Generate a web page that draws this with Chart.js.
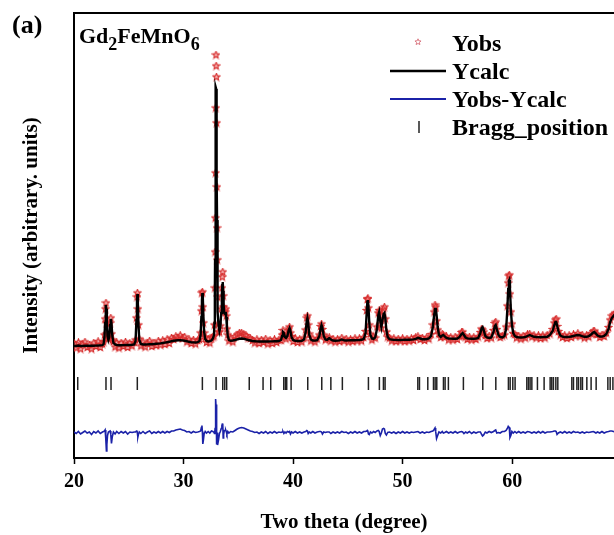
<!DOCTYPE html>
<html>
<head>
<meta charset="utf-8">
<script src="https://cdn.jsdelivr.net/npm/chart.js@4"></script>
<style>
html,body{margin:0;padding:0;background:#fff;}
#wrap{width:614px;height:535px;}
</style>
</head>
<body>
<div id="wrap"><canvas id="c" width="614" height="535"></canvas></div>
<script>
// ---------------- DATA ----------------
const twoTheta = [
 20.0,20.2,20.4,20.6,20.8,21.0,21.2,21.4,21.6,21.8,22.0,22.2,22.4,22.6,
 22.70,22.78,22.84,22.88,22.92,22.96,23.00,23.06,23.14,23.22,23.30,23.36,23.42,23.50,23.60,23.75,23.90,
 24.1,24.3,24.5,24.7,24.9,25.1,25.3,25.5,
 25.62,25.70,25.75,25.79,25.83,25.88,25.96,26.1,
 26.3,26.5,26.7,26.9,27.1,27.3,27.5,27.7,27.9,28.1,28.3,28.5,28.7,28.9,29.1,29.3,29.5,29.7,29.9,30.1,30.3,30.5,30.7,30.9,31.1,31.3,31.45,
 31.56,31.63,31.68,31.72,31.76,31.81,31.88,31.98,32.1,32.25,32.4,32.55,32.68,
 32.78,32.82,32.86,32.88,32.90,32.92,32.94,32.96,32.98,33.00,33.02,33.04,33.06,33.08,33.10,33.14,33.20,33.28,33.36,33.44,33.50,33.54,33.58,33.62,33.66,33.72,33.80,33.85,33.90,33.96,34.04,34.14,34.3,34.5,
 34.7,34.9,35.1,35.3,35.5,35.7,35.9,36.1,36.3,36.5,
 36.7,36.9,37.1,37.3,37.5,37.7,37.9,38.1,38.3,38.5,38.7,38.9,
 39.00,39.08,39.16,39.26,39.36,39.48,39.60,39.68,39.76,39.86,
 40.0,40.2,40.4,40.6,40.8,41.0,
 41.15,41.25,41.31,41.38,41.48,41.62,41.8,42.0,42.2,42.4,
 42.52,42.60,42.68,42.8,42.95,43.1,43.3,43.45,43.65,43.85,44.05,44.25,44.45,44.65,44.85,45.05,45.25,45.45,45.65,45.85,46.05,46.25,46.45,
 46.62,46.72,46.78,46.83,46.88,46.96,47.06,47.2,47.35,47.5,
 47.66,47.78,47.86,47.96,48.06,48.16,48.26,48.34,48.42,48.52,48.64,
 48.8,49.0,49.2,49.4,49.6,49.8,50.0,50.2,50.4,50.6,50.8,51.0,51.2,51.4,51.6,51.8,52.0,52.2,52.4,52.6,
 52.76,52.88,52.96,53.02,53.10,53.20,53.32,53.48,53.62,53.72,53.85,
 54.0,54.2,54.4,54.6,54.8,55.0,55.2,55.38,55.48,55.6,55.75,55.9,
 56.1,56.3,56.5,56.7,56.9,57.1,57.22,57.3,57.4,57.55,57.7,57.9,
 58.1,58.3,58.42,58.5,58.6,58.75,58.9,59.1,59.3,
 59.45,59.56,59.64,59.70,59.74,59.80,59.88,59.98,
 60.1,60.25,60.4,60.6,60.8,61.0,61.2,61.4,61.6,61.8,62.0,62.2,62.4,62.6,62.8,63.0,63.2,63.45,
 63.7,63.85,63.95,64.02,64.1,64.22,64.4,
 64.6,64.8,65.0,65.2,65.4,65.6,65.8,66.0,66.2,66.4,66.6,66.8,67.0,67.2,67.4,67.5,67.65,67.8,68.0,68.2,68.4,68.6,68.8,68.95,69.1,69.25,69.4
];
const yCalc = [
 190,190,195,190,190,192,192,192,193,193,194,195,196,198,
 210,280,420,540,600,560,420,290,250,280,400,460,420,290,220,205,200,
 198,198,199,200,200,200,202,205,
 240,450,650,710,620,420,250,210,
 205,205,206,207,208,210,212,214,216,220,224,228,232,238,242,245,248,248,246,242,238,232,228,226,225,228,240,
 300,480,650,720,680,500,330,260,240,235,238,245,265,
 300,420,750,1050,1400,1800,2300,2780,2760,2600,2300,1900,1450,1050,780,530,400,340,380,520,700,800,830,740,600,520,510,530,480,380,290,250,242,245,
 250,256,262,265,262,256,250,245,240,238,
 236,235,235,236,235,235,236,236,237,238,240,250,
 290,330,320,280,270,290,350,370,340,280,
 250,242,240,240,242,255,
 330,440,470,420,300,255,245,244,248,290,
 370,400,370,290,255,250,270,255,245,243,244,246,255,246,245,246,247,248,248,249,250,252,260,
 320,520,630,650,590,420,300,265,260,275,
 360,500,530,440,380,450,510,520,470,350,280,
 258,254,252,251,250,250,251,252,252,253,254,256,262,272,265,258,258,260,265,290,
 380,500,560,570,500,380,300,280,295,300,285,
 270,265,264,263,263,265,280,310,320,300,275,266,
 264,263,263,264,270,320,370,380,350,290,275,270,
 275,330,390,400,360,300,280,275,290,
 360,550,760,840,850,760,560,400,
 320,290,280,276,275,276,280,290,300,290,282,280,279,278,280,280,282,300,
 340,400,430,430,400,340,295,
 283,280,280,281,285,290,296,300,296,288,282,282,288,305,325,330,315,295,285,284,290,310,360,430,470,490,510
];
const yObs = [
 215,170,225,160,205,230,175,200,160,220,185,235,175,210,
 230,300,460,560,620,420,310,270,265,300,420,470,310,250,235,180,225,
 170,220,185,230,175,215,190,225,
 250,470,680,720,560,400,260,190,
 230,180,215,240,185,220,195,240,200,245,205,255,215,270,255,285,270,295,265,280,230,255,215,250,210,245,255,
 320,540,720,730,580,420,320,275,225,260,220,270,280,
 290,400,770,1130,1470,1920,2570,3100,2990,2880,2420,1780,1370,1050,680,410,330,330,390,560,770,880,930,690,580,540,530,560,490,360,300,240,265,230,
 285,300,320,320,305,295,270,265,245,220,
 255,215,250,225,260,210,245,215,255,225,250,245,
 300,345,300,290,260,310,360,380,320,285,
 235,265,225,255,230,270,
 350,470,490,400,310,240,265,230,260,300,
 385,410,355,300,250,265,275,240,260,230,255,235,270,240,260,230,255,235,265,240,265,240,275,
 335,545,655,665,570,400,310,250,280,270,
 380,520,545,410,370,490,560,580,460,330,280,
 270,240,265,235,260,240,265,235,260,240,265,245,275,285,255,270,245,275,260,305,
 400,530,600,580,440,350,310,275,310,295,280,
 285,250,275,250,280,255,290,325,330,290,280,255,
 280,250,275,255,280,325,360,350,330,295,265,290,
 270,345,415,430,355,300,275,290,300,
 380,590,820,890,900,710,530,410,
 315,305,270,290,260,290,270,305,310,280,295,270,295,265,295,270,295,310,
 355,420,450,460,385,335,300,
 275,295,265,295,275,305,290,315,290,300,270,295,280,315,335,340,305,305,275,300,285,320,375,450,490,500,520
];
const yDiff = [
 5,-10,10,-15,0,15,-5,5,-20,10,-5,15,-10,5,
 10,15,25,15,-60,-185,-120,-30,5,10,15,-20,-110,-40,5,-15,10,
 -10,10,-5,10,-15,5,0,5,
 5,15,20,-10,-45,-20,5,-10,
 10,-10,5,15,-10,5,-5,10,-5,10,-5,10,0,15,15,25,30,35,25,20,5,10,-5,10,0,5,10,
 15,50,70,10,-115,-80,-15,10,-5,10,-5,15,10,
 0,-10,15,40,60,120,270,335,230,280,120,-120,-80,0,-100,-125,-70,-10,10,40,70,85,90,-55,-20,20,20,25,10,-15,10,-5,10,5,
 20,35,45,50,45,35,25,15,10,0,
 5,-10,5,-5,10,-10,5,-5,10,-5,5,0,
 5,10,-10,5,-5,10,5,10,-15,5,
 -5,10,-5,5,-5,5,
 10,20,15,-10,5,-5,10,-5,5,10,
 10,5,-15,5,0,5,5,-10,5,-5,5,-5,10,0,5,-10,5,-5,10,-5,5,-5,10,
 10,15,20,10,-15,-20,5,-5,10,0,
 15,20,10,-30,-5,35,40,35,-10,-25,0,
 5,-5,5,-10,5,-5,10,-5,5,-5,5,0,5,10,-5,5,-5,5,0,10,
 15,30,45,10,-60,-30,5,-5,10,-5,0,
 10,-5,5,-5,10,-5,5,10,5,-10,5,-5,
 10,-10,5,-5,5,5,-20,-35,-25,5,-5,10,
 0,10,20,25,-5,0,-5,10,10,
 20,40,60,50,50,-50,-30,10,
 -5,10,-5,10,-5,5,-5,10,5,-5,5,-5,10,-5,10,-5,5,5,
 10,15,15,10,-20,-5,5,
 -5,10,-5,5,-5,10,0,5,-5,5,-5,5,0,5,10,5,-5,5,-5,10,-5,5,10,15,15,10,5
];
const braggPositions = [
 20.34,22.92,23.38,25.78,31.72,32.97,33.58,33.76,33.94,36.0,37.26,37.96,39.15,39.3,39.42,39.82,
 41.34,42.62,43.45,44.5,46.88,47.88,48.25,48.4,51.39,51.54,52.3,52.82,52.97,53.12,53.73,53.88,54.18,
 55.55,57.32,58.51,59.66,59.82,60.06,60.27,61.34,61.49,61.64,61.8,62.31,62.92,63.47,63.62,63.77,63.99,64.17,
 65.45,65.6,65.91,66.06,66.27,66.42,66.82,67.21,67.67,68.74,68.95,69.2
];
const xTickValues = [20, 30, 40, 50, 60];
const legendLabels = ['Yobs', 'Ycalc', 'Yobs-Ycalc', 'Bragg_position'];

// plotting constants (positions / styles, not data)
const DIFF_OFFSET = -675;
const BRAGG_LEVEL = -185;
const X_MIN = 20, X_MAX = 69.3, Y_MIN = -930, Y_MAX = 3520;
const SERIF = '"Liberation Serif", "Times New Roman", serif';
const OBS_COLOR = 'rgb(214,45,45)';
const DIFF_COLOR = '#1b22a8';

function makeStar(size, color, fill, lw) {
  const c = document.createElement('canvas');
  c.width = size; c.height = size;
  const g = c.getContext('2d');
  const cx = size / 2, cy = size / 2, R = size / 2 - 0.8, r = R * 0.45;
  g.beginPath();
  for (let i = 0; i < 10; i++) {
    const a = -Math.PI / 2 + i * Math.PI / 5;
    const rr = i % 2 ? r : R;
    g.lineTo(cx + rr * Math.cos(a), cy + rr * Math.sin(a));
  }
  g.closePath();
  if (fill) { g.fillStyle = fill; g.fill(); }
  g.strokeStyle = color; g.lineWidth = lw; g.stroke();
  return c;
}
const starImg = makeStar(9, OBS_COLOR, 'rgba(235,90,90,0.45)', 1.1);
const starLegend = makeStar(8, 'rgb(215,110,120)', null, 0.9);

const calcPts = twoTheta.map((x, i) => ({x, y: yCalc[i]}));
const obsPts = twoTheta.map((x, i) => ({x, y: yObs[i]}));
const diffPts = twoTheta.map((x, i) => ({x, y: yDiff[i] + DIFF_OFFSET}));
const braggPts = braggPositions.map(x => ({x, y: BRAGG_LEVEL}));

const decor = {
  id: 'decor',
  afterDraw(chart) {
    const ctx = chart.ctx, a = chart.chartArea;
    ctx.save();
    // top frame line
    ctx.strokeStyle = '#000'; ctx.lineWidth = 2;
    ctx.beginPath(); ctx.moveTo(a.left - 1, a.top); ctx.lineTo(a.right, a.top); ctx.stroke();
    ctx.fillStyle = '#000';
    ctx.textBaseline = 'alphabetic';
    // panel label
    ctx.font = 'bold 26px ' + SERIF;
    ctx.textAlign = 'left';
    ctx.fillText('(a)', 12, 33);
    // formula Gd2FeMnO6
    let x = 79;
    const parts = [['Gd', 0], ['2', 1], ['FeMnO', 0], ['6', 1]];
    for (const [t, sub] of parts) {
      ctx.font = (sub ? 'bold 18px ' : 'bold 22px ') + SERIF;
      ctx.fillText(t, x, sub ? 50 : 43);
      x += ctx.measureText(t).width;
    }
    // legend
    ctx.font = 'bold 24px ' + SERIF;
    const tx = 452;
    ctx.drawImage(starLegend, 418 - 4, 42 - 4);
    ctx.fillText(legendLabels[0], tx, 51);
    ctx.strokeStyle = '#000'; ctx.lineWidth = 2.5;
    ctx.beginPath(); ctx.moveTo(390, 71); ctx.lineTo(446, 71); ctx.stroke();
    ctx.fillText(legendLabels[1], tx, 79);
    ctx.strokeStyle = DIFF_COLOR; ctx.lineWidth = 1.8;
    ctx.beginPath(); ctx.moveTo(390, 99); ctx.lineTo(446, 99); ctx.stroke();
    ctx.fillText(legendLabels[2], tx, 107);
    ctx.strokeStyle = '#222'; ctx.lineWidth = 1.5;
    ctx.beginPath(); ctx.moveTo(419, 121); ctx.lineTo(419, 133); ctx.stroke();
    ctx.fillText(legendLabels[3], tx, 135);
    ctx.restore();
  }
};

new Chart(document.getElementById('c'), {
  type: 'scatter',
  data: {
    datasets: [
      {label: 'Ycalc', data: calcPts, showLine: true, borderColor: '#000', borderWidth: 2.4,
       pointRadius: 0, order: 0},
      {label: 'Yobs', data: obsPts, showLine: false, pointStyle: starImg, pointRadius: 3.5, order: 1},
      {label: 'Yobs-Ycalc', data: diffPts, showLine: true, borderColor: DIFF_COLOR, borderWidth: 1.6,
       pointRadius: 0, order: 2},
      {label: 'Bragg_position', data: braggPts, showLine: false, pointStyle: 'line', rotation: 90,
       pointRadius: 6.5, borderColor: '#222', borderWidth: 1.5, order: 3}
    ]
  },
  options: {
    responsive: false,
    animation: false,
    events: [],
    layout: {autoPadding: false, padding: {top: 13, right: 0, left: 0, bottom: 0}},
    plugins: {legend: {display: false}, tooltip: {enabled: false}},
    scales: {
      x: {
        type: 'linear', position: 'bottom', min: X_MIN, max: X_MAX,
        afterFit(s) { s.height = 77; },
        afterBuildTicks(s) { s.ticks = xTickValues.map(v => ({value: v})); },
        ticks: {includeBounds: false, color: '#000', padding: 6, maxRotation: 0,
                font: {family: SERIF, size: 20, weight: 'bold'}},
        grid: {display: true, drawOnChartArea: false, drawTicks: true, tickLength: 6,
               tickColor: '#000', tickWidth: 1.5},
        border: {display: true, color: '#000', width: 2},
        title: {display: true, text: 'Two theta (degree)', color: '#000',
                font: {family: SERIF, size: 21, weight: 'bold'}, padding: {top: 0, bottom: 0}}
      },
      y: {
        type: 'linear', min: Y_MIN, max: Y_MAX,
        afterFit(s) { s.width = 74; },
        ticks: {display: false},
        grid: {display: false},
        border: {display: true, color: '#000', width: 2},
        title: {display: true, text: 'Intensity (arbitrary. units)', color: '#000',
                font: {family: SERIF, size: 21, weight: 'bold'}, padding: {top: 19, bottom: 0}}
      }
    }
  },
  plugins: [decor]
});
</script>
</body>
</html>
